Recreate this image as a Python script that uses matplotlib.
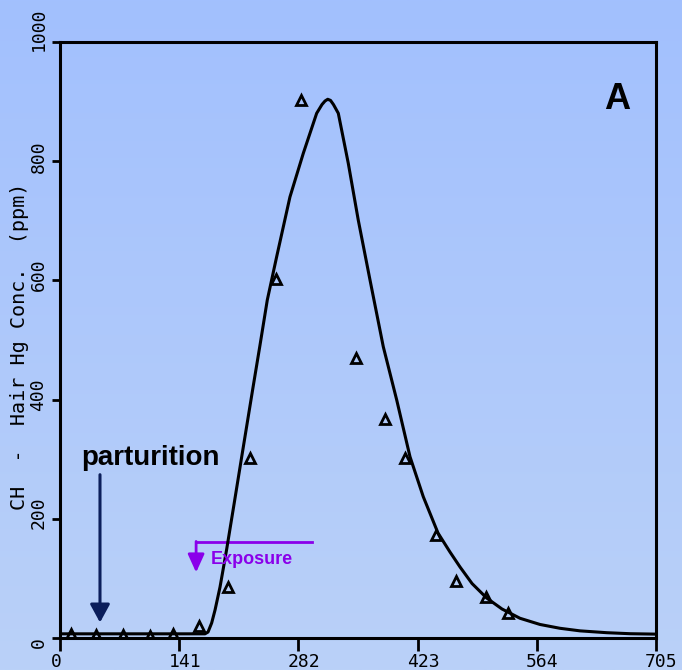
import numpy as np
import matplotlib.pyplot as plt
from matplotlib.transforms import ScaledTranslation

# observed hair Hg concentrations (ppm) vs day
obs_day = [13, 43, 75, 107, 134, 164, 199, 225, 256, 285, 350, 384, 408, 445, 468, 504, 530]
obs_conc = [7, 5, 5, 3, 7, 20, 86, 302, 602, 903, 470, 367, 302, 173, 96, 69, 42]

# model curve
curve_day = [0, 60, 120, 165, 171.5, 175.1, 179.4, 183.4, 189.3, 197.2, 206.1, 214.9,
             227.8, 236.6, 245.2, 256.3, 272.0, 287.8, 303.6, 309.9, 313.5, 316.7,
             320.0, 323.5, 329.2, 341.0, 352.8, 366.7, 382.4, 398.3, 414.0, 429.7,
             447.1, 461.3, 473.2, 487.4, 504.7, 522.8, 544.1, 567.8, 591.4, 615.0,
             646.7, 674.3, 705]
curve_conc = [7, 7, 7, 7, 7, 10, 25.2, 47, 85.6, 149.3, 226.5, 303.7,
              416, 491.6, 567.1, 639.8, 740, 813.3, 880.4, 895.1, 901, 903.9,
              902, 895, 880.4, 796.5, 701.3, 600.7, 488.8, 399.3, 304.2, 237.1,
              176.2, 144.3, 119.1, 91.4, 67.1, 48.7, 33.1, 22.7, 16.3, 12,
              8.9, 7.2, 6.5]

x_ticks = [0, 141, 282, 423, 564, 705]
y_ticks = [0, 200, 400, 600, 800, 1000]

fig = plt.figure(figsize=(6.82, 6.70), dpi=100)

# gradient background
bg = fig.add_axes([0, 0, 1, 1], zorder=-10)
top = np.array([0xA2, 0xC0, 0xFE]) / 255
bot = np.array([0xBA, 0xD1, 0xF8]) / 255
t = np.linspace(0, 1, 256)[:, None]
grad = (top[None, :] * (1 - t) + bot[None, :] * t)[:, None, :]
bg.imshow(grad, aspect='auto', extent=[0, 1, 0, 1])
bg.axis('off')

ax = fig.add_axes([60 / 682, 32 / 670, 596 / 682, 596 / 670])
ax.patch.set_alpha(0)

ax.plot(curve_day, curve_conc, color='black', lw=2.2, zorder=3,
        solid_joinstyle='round')
ax.plot(obs_day, obs_conc, linestyle='none', marker='^', ms=7.5, mfc='none',
        mec='black', mew=2, zorder=4)

ax.set_xlim(0, 705)
ax.set_ylim(0, 1000)
ax.set_xticks(x_ticks)
ax.set_yticks(y_ticks)
mono = 'DejaVu Sans Mono'
ax.set_xticklabels([str(v) for v in x_ticks], family=mono, fontsize=13)
ax.set_yticklabels([str(v) for v in y_ticks], family=mono, fontsize=13,
                   rotation=90, va='center')
ax.tick_params(axis='x', direction='out', length=9, width=2, pad=2)
ax.tick_params(axis='y', direction='out', length=6, width=2, pad=3)
for s in ax.spines.values():
    s.set_linewidth(2.2)

# the old plotting program placed tick labels slightly off their ticks
x_shift = [-4, 6, 6, 6, 5, 5]
y_shift = [-5, 6, 5, 6, 5, 13]
for lab, dx in zip(ax.get_xticklabels(), x_shift):
    lab.set_transform(lab.get_transform() + ScaledTranslation(dx / 100, 0, fig.dpi_scale_trans))
for lab, dy in zip(ax.get_yticklabels(), y_shift):
    lab.set_transform(lab.get_transform() + ScaledTranslation(0, dy / 100, fig.dpi_scale_trans))

ax.set_ylabel('CH  -  Hair Hg Conc.  (ppm)', family=mono, fontsize=14.5)
ax.yaxis.set_label_coords(-0.052, 0.49)

# annotations
ax.text(106.5, 302, 'parturition', ha='center', va='center', fontsize=20,
        fontweight='bold', family='Liberation Sans')
ax.annotate('', xy=(47.3, 26), xytext=(47.3, 274),
            arrowprops=dict(arrowstyle='-|>,head_length=1.1,head_width=0.6',
                            mutation_scale=10, lw=2.2, color='#0B1E5B',
                            shrinkA=0, shrinkB=0))

purple = '#8A00EA'
ax.plot([298, 161], [161, 161], color=purple, lw=2)
ax.annotate('', xy=(161, 110), xytext=(161, 162),
            arrowprops=dict(arrowstyle='-|>,head_length=1.1,head_width=0.5',
                            mutation_scale=10, lw=2, color=purple,
                            shrinkA=0, shrinkB=0))
ax.text(178.5, 132, 'Exposure', ha='left', va='center', fontsize=13,
        fontweight='bold', color=purple, family='Liberation Sans')

ax.text(658.5, 903, 'A', ha='center', va='center', fontsize=26,
        fontweight='bold', family='Liberation Sans')

fig.savefig('out.png', dpi=100)
